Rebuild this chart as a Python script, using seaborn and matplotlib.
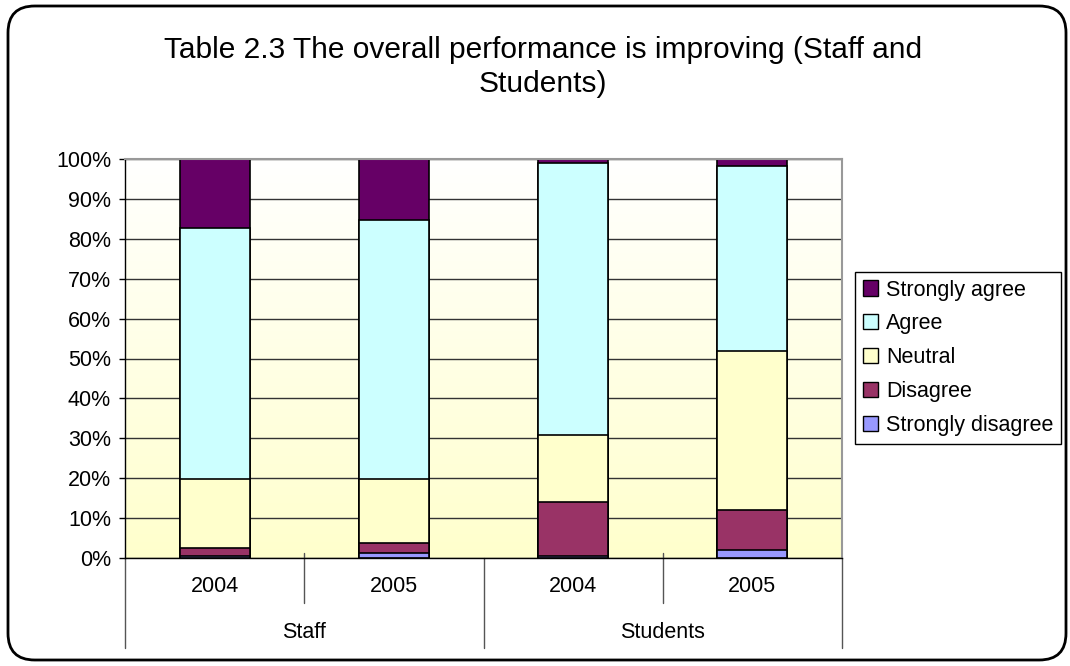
import numpy as np
import pandas as pd
import matplotlib
matplotlib.use("Agg")
import matplotlib.pyplot as plt
import seaborn as sns
from matplotlib.patches import Patch, FancyBboxPatch
from matplotlib.colors import LinearSegmentedColormap

# ---- data ----
groups = ["Staff", "Staff", "Students", "Students"]
years = ["2004", "2005", "2004", "2005"]
responses = ["Strongly disagree", "Disagree", "Neutral", "Agree", "Strongly agree"]
strongly_disagree = [0.4, 1.2, 0.5, 2.0]
disagree = [2.1, 2.6, 13.6, 10.1]
neutral = [17.2, 16.0, 16.8, 39.7]
agree = [63.1, 64.9, 68.2, 46.4]
strongly_agree = [17.2, 15.3, 0.9, 1.8]
colors = ["#9999FF", "#993366", "#FFFFCC", "#CCFFFF", "#660066"]
y_ticks = [0, 10, 20, 30, 40, 50, 60, 70, 80, 90, 100]
y_tick_labels = [f"{t}%" for t in y_ticks]
title = "Table 2.3 The overall performance is improving (Staff and\nStudents)"

sns.set_style("white")
plt.rcParams["font.family"] = ["Liberation Sans", "DejaVu Sans"]
plt.rcParams["text.color"] = "black"
plt.rcParams["xtick.labelcolor"] = "black"
plt.rcParams["ytick.labelcolor"] = "black"

bars = [f"{g} {y}" for g, y in zip(groups, years)]
series = [strongly_disagree, disagree, neutral, agree, strongly_agree]
rows = []
for r, vals in zip(responses, series):
    for b, v in zip(bars, vals):
        rows.append({"bar": b, "response": r, "value": v})
df = pd.DataFrame(rows)
df["response"] = pd.Categorical(df["response"], responses, ordered=True)
df = df.sort_values(["bar", "response"])
df["cum"] = df.groupby("bar")["value"].cumsum()

W, H = 1070, 666
fig = plt.figure(figsize=(W / 100, H / 100), dpi=100)
ax = fig.add_axes([125 / W, 1 - 558 / H, (842 - 125) / W, (558 - 159) / H])

# gradient background: white at top, light yellow at bottom
cmap = LinearSegmentedColormap.from_list("bg", ["#FFFFFF", "#FFFFCC"])
grad = np.linspace(1, 0, 256).reshape(-1, 1)
ax.imshow(grad, cmap=cmap, aspect="auto", extent=[-0.5, 3.5, 0, 100],
          origin="lower", zorder=0)

# stacked bars: draw cumulative totals from top layer downwards
for r, c in reversed(list(zip(responses, colors))):
    sub = df[df["response"] == r]
    sns.barplot(data=sub, x="bar", y="cum", order=bars, color=c, saturation=1,
                edgecolor="black", linewidth=1.2, width=0.39, ax=ax, zorder=2)

ax.set_xlim(-0.5, 3.5)
ax.set_ylim(0, 100)
ax.set_yticks(y_ticks)
ax.set_yticklabels(y_tick_labels, fontsize=15.5)
ax.set_xticks([])
ax.set_xlabel("")
ax.set_ylabel("")
ax.yaxis.grid(True, color="#333333", linewidth=1)
ax.set_axisbelow(True)
ax.tick_params(axis="y", direction="out", length=4, width=1, color="black", pad=6, left=True)
for s in ["left", "bottom"]:
    ax.spines[s].set_color("black")
    ax.spines[s].set_linewidth(1)
for s in ["top", "right"]:
    ax.spines[s].set_color("#999999")
    ax.spines[s].set_linewidth(1.5)

# multi-level category axis
tr = ax.get_xaxis_transform()
ah = 558 - 159
for i, y in enumerate(years):
    ax.text(i, -29 / ah, y, transform=tr, ha="center", va="center", fontsize=15.5)
group_names = ["Staff", "Students"]
for j, g in enumerate(group_names):
    ax.text(2 * j + 0.5, -75 / ah, g, transform=tr, ha="center", va="center", fontsize=15.5)
for xb in [0.5, 2.5]:
    ax.plot([xb, xb], [5 / ah, -45 / ah], transform=tr, color="#555555", lw=1, clip_on=False)
for xb in [-0.5, 1.5, 3.5]:
    ax.plot([xb, xb], [0, -90 / ah], transform=tr, color="#555555", lw=1, clip_on=False)

# legend
handles = [Patch(facecolor=c, edgecolor="black", linewidth=1, label=r)
           for r, c in reversed(list(zip(responses, colors)))]
fig.legend(handles=handles, loc="upper left", bbox_to_anchor=(855 / W, 1 - 272 / H),
           frameon=True, fancybox=False, edgecolor="black", framealpha=1,
           fontsize=15.5, handlelength=0.7, handleheight=0.7, handletextpad=0.4,
           labelspacing=0.6, borderpad=0.35, borderaxespad=0)

# title
fig.text(543 / W, 1 - 67 / H, title, ha="center", va="center", fontsize=21.5, linespacing=1.3)

# outer rounded border
border = FancyBboxPatch((8 / W, 6 / H), (1058 / W), (654 / H),
                        boxstyle="round,pad=0,rounding_size=0.025",
                        transform=fig.transFigure, fill=False, edgecolor="black",
                        linewidth=2, mutation_aspect=W / H)
fig.patches.append(border)

fig.savefig("out.png", dpi=100)
